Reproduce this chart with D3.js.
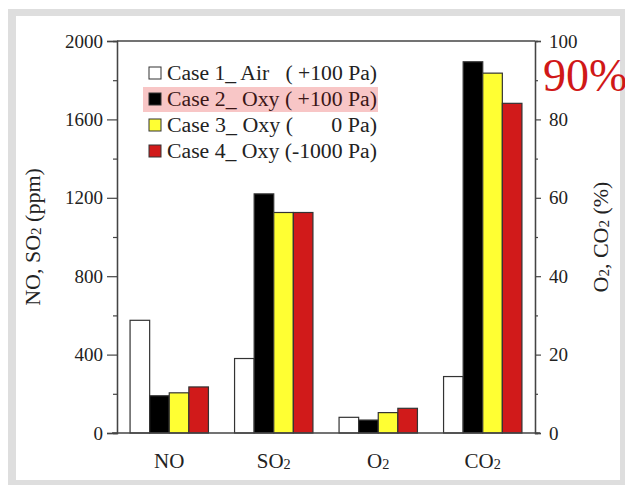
<!DOCTYPE html>
<html>
<head>
<meta charset="utf-8">
<script src="https://cdn.jsdelivr.net/npm/d3@7"></script>
<style>
  body { margin: 0; background: #fff; }
  text { font-family: "Liberation Serif", "Times New Roman", serif; }
</style>
</head>
<body>
<div id="chart"></div>
<script>
var categories = ["NO", "SO2", "O2", "CO2"];
var cases = ["case1", "case2", "case3", "case4"];
// NO, SO2 in ppm (left axis); O2, CO2 in % (right axis)
var case1 = [575, 380, 4.0, 14.4];
var case2 = [190, 1220, 3.3, 94.7];
var case3 = [205, 1125, 5.2, 91.8];
var case4 = [235, 1125, 6.3, 84.1];
var seriesValues = [case1, case2, case3, case4];
var axisOf = ["left", "left", "right", "right"];
var barColors = ["#ffffff", "#000000", "#ffff33", "#d11a1a"];
var legendLabels = [
    "Case 1_ Air   ( +100 Pa)",
    "Case 2_ Oxy ( +100 Pa)",
    "Case 3_ Oxy (       0 Pa)",
    "Case 4_ Oxy (-1000 Pa)"
];
var leftTicks = [0, 400, 800, 1200, 1600, 2000];
var rightTicks = [0, 20, 40, 60, 80, 100];

var W = 625, H = 485;
var pL = 117, pR = 535, pT = 41, pB = 433;

var svg = d3.select("#chart").append("svg")
    .attr("width", W)
    .attr("height", H);

// screenshot frame
svg.append("rect").attr("x", 8).attr("y", 9).attr("width", W - 8).attr("height", H - 9).attr("fill", "#dedede");
svg.append("rect").attr("x", 16).attr("y", 16).attr("width", 604).attr("height", 464).attr("fill", "#ffffff");

var x = d3.scaleBand().domain(categories).range([pL, pR]).paddingInner(0.25).paddingOuter(0.125);
var xs = d3.scaleBand().domain(cases).range([0, x.bandwidth()]);
var yL = d3.scaleLinear().domain([0, 2000]).range([pB, pT]);
var yR = d3.scaleLinear().domain([0, 100]).range([pB, pT]);

// bars
categories.forEach(function(c, i) {
    var yS = axisOf[i] === "left" ? yL : yR;
    svg.append("g").selectAll("rect")
        .data(cases)
        .enter().append("rect")
        .attr("x", function(d) { return x(c) + xs(d); })
        .attr("y", function(d, j) { return yS(seriesValues[j][i]); })
        .attr("width", xs.bandwidth())
        .attr("height", function(d, j) { return pB - yS(seriesValues[j][i]); })
        .attr("fill", function(d, j) { return barColors[j]; })
        .attr("stroke", "#333")
        .attr("stroke-width", 1.2);
});

// top frame line
svg.append("line").attr("x1", pL).attr("x2", pR).attr("y1", pT).attr("y2", pT).attr("stroke", "#444").attr("stroke-width", 1.3);

var gL = svg.append("g").attr("transform", "translate(" + pL + ",0)")
    .call(d3.axisLeft(yL).tickValues(leftTicks).tickSize(10).tickPadding(4).tickFormat(d3.format("d")));
var gLm = svg.append("g").attr("transform", "translate(" + pL + ",0)")
    .call(d3.axisLeft(yL).tickValues([200, 600, 1000, 1400, 1800]).tickSize(4).tickFormat(""));
var gR = svg.append("g").attr("transform", "translate(" + pR + ",0)")
    .call(d3.axisRight(yR).tickValues(rightTicks).tickSize(6).tickPadding(8).tickFormat(d3.format("d")));
var gRm = svg.append("g").attr("transform", "translate(" + pR + ",0)")
    .call(d3.axisRight(yR).tickValues([10, 30, 50, 70, 90]).tickSize(3).tickFormat(""));
var gB = svg.append("g").attr("transform", "translate(0," + pB + ")")
    .call(d3.axisBottom(x).tickSize(0).tickFormat(""));

[gL, gLm, gR, gRm, gB].forEach(function(g) {
    g.select(".domain").attr("stroke", "#444").attr("stroke-width", 1.3);
    g.selectAll(".tick line").attr("stroke", "#444").attr("stroke-width", 1.2);
    g.selectAll("text").attr("font-size", 19).attr("fill", "#222");
});
gB.select(".domain").attr("d", "M" + (pL - 5) + ",0H" + (pR + 5));

// category labels with subscripts
function subLabel(sel, txt) {
    var m = txt.match(/^(.*?)(\d)$/);
    if (m) {
        sel.append("tspan").text(m[1]);
        sel.append("tspan").attr("font-size", "0.68em").attr("dy", 1).text(m[2]);
    } else {
        sel.text(txt);
    }
}
categories.forEach(function(c) {
    var t = svg.append("text")
        .attr("x", x(c) + x.bandwidth() / 2)
        .attr("y", 468)
        .attr("text-anchor", "middle")
        .attr("font-size", 21)
        .attr("fill", "#222");
    subLabel(t, c);
});

// axis titles
var tl = svg.append("text")
    .attr("transform", "translate(40,237) rotate(-90)")
    .attr("text-anchor", "middle")
    .attr("font-size", 22)
    .attr("fill", "#222");
tl.append("tspan").text("NO, SO");
tl.append("tspan").attr("font-size", "0.68em").attr("dy", 1).text("2");
tl.append("tspan").attr("dy", -1).text(" (ppm)");

var tr = svg.append("text")
    .attr("transform", "translate(608,237) rotate(-90)")
    .attr("text-anchor", "middle")
    .attr("font-size", 22)
    .attr("fill", "#222");
tr.append("tspan").text("O");
tr.append("tspan").attr("font-size", "0.68em").attr("dy", 1).text("2");
tr.append("tspan").attr("dy", -1).text(", CO");
tr.append("tspan").attr("font-size", "0.68em").attr("dy", 1).text("2");
tr.append("tspan").attr("dy", -1).text(" (%)");

// legend
svg.append("rect").attr("x", 143).attr("y", 87).attr("width", 235).attr("height", 25).attr("fill", "#f8c6c6");
var lg = svg.append("g").selectAll("g")
    .data(legendLabels)
    .enter().append("g")
    .attr("transform", function(d, i) { return "translate(0," + (73 + i * 26) + ")"; });
lg.append("rect")
    .attr("x", 149).attr("y", -6).attr("width", 12).attr("height", 12)
    .attr("fill", function(d, i) { return barColors[i]; })
    .attr("stroke", "#333").attr("stroke-width", 1);
lg.append("text")
    .attr("x", 167).attr("y", 6.5)
    .attr("font-size", 20.5)
    .attr("fill", function(d, i) { return i === 1 ? "#3a1616" : "#222"; })
    .attr("textLength", 210)
    .attr("lengthAdjust", "spacingAndGlyphs")
    .style("white-space", "pre")
    .text(function(d) { return d; });

// annotation
svg.append("text")
    .attr("x", 543).attr("y", 91)
    .attr("font-size", 46)
    .attr("fill", "#d01818")
    .text("90%");
</script>
</body>
</html>
